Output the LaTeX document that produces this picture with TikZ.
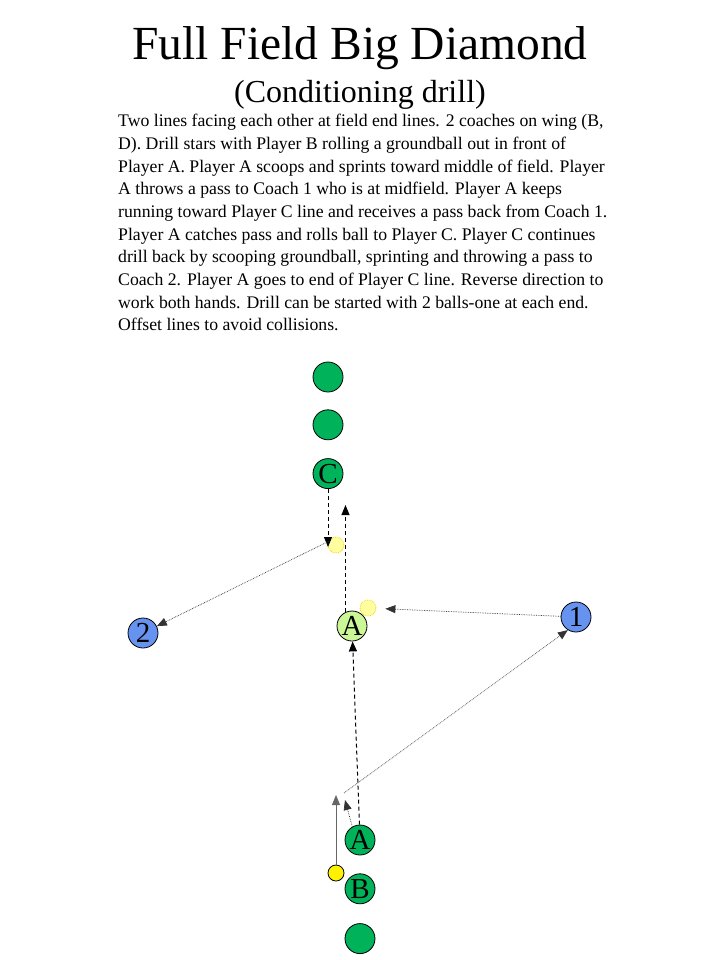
\documentclass[tikz,border=0pt]{standalone}
\usepackage{fontspec}
\setmainfont{Liberation Serif}
\usetikzlibrary{arrows.meta,positioning}
\definecolor{linegreen}{RGB}{0,178,90}
\definecolor{runnergreen}{RGB}{204,247,150}
\definecolor{coachblue}{RGB}{102,146,240}
\definecolor{paleball}{RGB}{255,255,160}

\begin{document}
\begin{tikzpicture}[x=1pt, y=-1pt,
  player/.style={circle, draw, line width=0.8pt, fill=linegreen,
    minimum size=30pt, inner sep=0pt, font=\fontsize{29}{29}\selectfont},
  runner/.style={player, fill=runnergreen},
  coach/.style={player, fill=coachblue},
  ball/.style={circle, draw, line width=0.8pt, fill=yellow,
    minimum size=16pt, inner sep=0pt},
  looseball/.style={ball, fill=paleball, draw=yellow!70!orange,
    densely dotted},
  tip/.style={-{Triangle[length=10pt,width=8pt]}},
  run/.style={tip, line width=1pt, dash pattern=on 4pt off 3pt},
  pass/.style={tip, line width=0.7pt, densely dotted, black!80},
  roll/.style={tip, line width=0.8pt, black!60}]
\useasboundingbox (0,0) rectangle (720,960);

\node (title) at (360,60) [anchor=base, font=\fontsize{47.5}{50}\selectfont]
  {Full Field Big Diamond};
\node (sub) at (360,103) [anchor=base, font=\fontsize{32}{34}\selectfont]
  {(Conditioning drill)};
\node (rules) at (118,114) [anchor=north west, align=left, inner sep=0pt,
    font=\fontsize{17.7}{22.7}\selectfont]
  {Two lines facing each other at field end lines. 2 coaches on wing (B,\\
   D).  Drill stars with Player B rolling a groundball out in front of\\
   Player A. Player A scoops and sprints toward middle of field.  Player\\
   A throws a pass to Coach 1 who is at midfield.  Player A keeps\\
   running toward Player C line and receives a pass back from Coach 1.\\
   Player A catches pass and rolls ball  to Player C.  Player C continues\\
   drill back by scooping groundball, sprinting and throwing a pass to\\
   Coach 2.  Player A goes to end of Player C line.  Reverse direction to\\
   work both hands.  Drill can be started with 2 balls-one at each end.\\
   Offset lines to avoid collisions.};

% far end line
\node (c3) at (328,377) [player] {};
\node (c2) [player, below=17pt of c3] {};
\node (pC) [player, below=18pt of c2] {C};

% midfield
\node (pA) at (352,626) [runner] {A};
\node (p1) at (576,617) [coach] {1};
\node (p2) at (143,633) [coach] {2};
\node (ball1) at (336,545) [looseball] {};
\node (ball2) at (368,608) [looseball] {};

% near end line
\node (pA2) at (360,840) [player] {A};
\node (pB) [player, below=18pt of pA2] {B};
\node (b3) [player, below=19pt of pB] {};
\node (ball3) at (336,873) [ball] {};

\coordinate (catch) at (328,547);
\coordinate (toC) at (345,505);
\coordinate (scoop) at (345,800);
\coordinate (rolled) at (336,795);
\coordinate (release) at (344,793);

\draw[run] (pC) -- (catch);
\draw[run] (pA.115) -- (pA.115 |- toC);
\draw[pass] (ball1.155) -- (p2);
\draw[pass, shorten >=9pt] (p1) -- (ball2);
\draw[run] (pA2) -- (pA);
\draw[pass] (pA2.120) -- (scoop);
\draw[roll] (ball3) -- (rolled);
\draw[pass] (release) -- (p1.238);
\end{tikzpicture}
\end{document}
